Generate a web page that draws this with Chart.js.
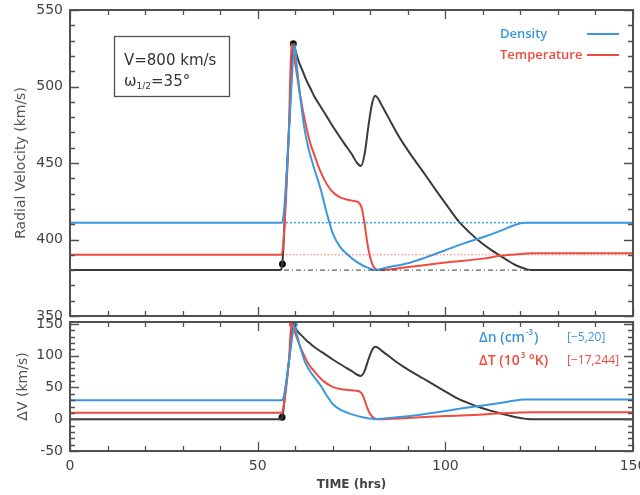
<!DOCTYPE html>
<html>
<head>
<meta charset="utf-8">
<script src="https://cdn.jsdelivr.net/npm/chart.js@4.4.0/dist/chart.umd.min.js"></script>
<style>
  body { margin: 0; background: #fff; }
  #wrap { position: relative; width: 640px; height: 495px; }
  #top-chart { position: absolute; left: 0; top: 0; }
  #bottom-chart { position: absolute; left: 0; top: 318px; }
</style>
</head>
<body>
<div id="wrap">
  <canvas id="top-chart" width="640" height="320"></canvas>
  <canvas id="bottom-chart" width="640" height="177"></canvas>
</div>
<script>
// TIME (hrs) for each curve
var timeBlack = [0, 56, 56.6, 57.5, 58.5, 59.5, 60, 61, 62, 63, 64, 65, 67, 70, 73, 75, 76.5, 77.5, 78.5, 79.5, 80.5, 81.3, 82, 83, 85, 87, 89, 91.5, 94, 96, 98, 100.5, 103.5, 106.5, 109.5, 112, 114.5, 116.5, 118.5, 120.5, 122, 123, 150];
var timeBlue = [0, 56.5, 57, 58, 59, 59.8, 60.5, 61.5, 62.5, 63.5, 64.5, 65.5, 67, 68, 69, 70, 72, 74, 76, 78, 80, 81, 85, 90, 95, 100, 105, 110, 115, 118, 121, 150];
var timeRed = [0, 56.3, 56.8, 57.5, 58.3, 59, 60, 61, 62, 63, 64, 65, 66, 67, 68, 69, 70, 71, 72, 74, 76, 77, 77.8, 78.5, 79.2, 80, 80.8, 81.5, 82.5, 90, 100, 110, 115, 120, 123, 150];

// radial velocity (km/s), top panel
var velBlack = [380, 380, 385, 430, 480, 528, 524, 516, 510, 504, 499, 494, 486, 474, 463, 456, 450, 448, 456, 474, 489, 494, 492.5, 488, 479, 470, 462, 453, 444.5, 437.5, 430.5, 422, 412, 404.5, 398, 393.5, 389.5, 386.5, 383.5, 381.5, 380.3, 380, 380];
var velBlue = [411, 411, 418, 455, 500, 528, 512, 490, 472, 460, 451, 443, 431, 421, 412, 404, 395, 390, 386, 383, 381, 380, 382, 384.5, 388.5, 393, 397.5, 401.5, 406, 409, 411, 411];
var velRed = [390, 390, 396, 425, 470, 528, 515, 499, 485, 473, 463, 456, 449, 443, 438, 434, 431, 429, 427.5, 426, 425, 424, 420, 410, 398, 388, 382.5, 380.5, 380, 382, 385, 387.5, 389.5, 390.5, 391, 391];

// delta V (km/s), bottom panel
var dvBlack = [0, 0, 5, 50, 100, 150, 144, 136, 130, 124, 119, 114, 106, 94, 83, 76, 70, 68, 76, 94, 109, 114, 112.5, 108, 99, 90, 82, 73, 64.5, 57.5, 50.5, 42, 32, 24.5, 18, 13.5, 9.5, 6.5, 3.5, 1.5, 0.3, 0, 0];
var dvBlue = [30, 30, 37, 75, 120, 150, 132, 110, 92, 80, 71, 63, 51, 41, 32, 24, 15, 10, 6, 3, 1, 0, 2, 4.5, 8.5, 13, 17.5, 21.5, 26, 29, 31, 31];
var dvRed = [10, 10, 16, 45, 90, 150, 135, 119, 105, 93, 83, 76, 69, 63, 58, 54, 51, 49, 47.5, 46, 45, 44, 40, 30, 18, 8, 2.5, 0.5, 0, 2, 5, 7.5, 9.5, 10.5, 11, 11];

// dotted reference levels in the top panel: density, temperature, velocity
var refStart = [57.5, 57.5, 57];
var refEnd = [150, 150, 122];
var refLevel = [411, 390, 380];

// marked points
var topMarkTime = [56.6, 59.5];
var topMarkVel = [384, 528];
var bottomMarkTime = [56.5, 59, 60];
var bottomMarkDv = [3, 150, 150];

var BLUE = "#3b98dc";
var RED = "#ef4b3f";
var BLACK = "#3a3a3a";
var AXIS = "#505050";
var FONT = "'DejaVu Sans', sans-serif";
var NOTE_FONT = "'Open Sans', sans-serif";

function pts(t, v) {
  return t.map(function (x, i) { return { x: x, y: v[i] }; });
}

function curve(t, v, color) {
  return {
    data: pts(t, v),
    borderColor: color,
    borderWidth: 2,
    pointRadius: 0,
    cubicInterpolationMode: "monotone",
  };
}

function refLine(i, color, dash, width) {
  return {
    data: [{ x: refStart[i], y: refLevel[i] }, { x: refEnd[i], y: refLevel[i] }],
    borderColor: color,
    borderWidth: width,
    borderDash: dash,
    pointRadius: 0,
  };
}

// keep the plot box fixed: no extra room for half labels
function fixY(s) {
  s.width = 70;
  s.paddingTop = 0;
  s.paddingBottom = 0;
}
function fixX(s) {
  s.height = 44;
  s.paddingLeft = 0;
  s.paddingRight = 0;
}

// frame with IDL-style inward ticks
var frameTicks = {
  id: "frameTicks",
  afterDatasetsDraw: function (chart) {
    var ctx = chart.ctx, a = chart.chartArea;
    var x = chart.scales.x, y = chart.scales.y;
    ctx.save();
    ctx.strokeStyle = AXIS;
    ctx.lineWidth = 1.3;
    ctx.beginPath();
    for (var t = 0; t <= 150; t += 10) {
      var px = Math.round(x.getPixelForValue(t)) + 0.5;
      var len = t % 50 === 0 ? 9 : 5;
      ctx.moveTo(px, a.bottom); ctx.lineTo(px, a.bottom - len);
      ctx.moveTo(px, a.top); ctx.lineTo(px, a.top + len);
    }
    for (var v = Math.ceil(y.min / 10) * 10; v <= y.max; v += 10) {
      var py = Math.round(y.getPixelForValue(v)) + 0.5;
      var l2 = v % 50 === 0 ? 9 : 5;
      ctx.moveTo(a.left, py); ctx.lineTo(a.left + l2, py);
      ctx.moveTo(a.right, py); ctx.lineTo(a.right - l2, py);
    }
    ctx.stroke();
    ctx.lineWidth = 2;
    ctx.strokeRect(a.left, a.top, a.right - a.left, a.bottom - a.top);
    ctx.restore();
  },
};

// text box and legend of the top panel
var topNotes = {
  id: "topNotes",
  afterDraw: function (chart) {
    var ctx = chart.ctx;
    ctx.save();
    ctx.strokeStyle = AXIS;
    ctx.lineWidth = 1.3;
    ctx.strokeRect(114.5, 36.5, 115, 60);
    ctx.fillStyle = "#333";
    ctx.textBaseline = "middle";
    ctx.font = "15px " + FONT;
    ctx.fillText("V=800 km/s", 124, 61);
    ctx.fillText("\u03c9", 124, 82);
    var w = ctx.measureText("\u03c9").width;
    ctx.font = "9px " + FONT;
    ctx.fillText("1/2", 124 + w, 87);
    var w2 = ctx.measureText("1/2").width;
    ctx.font = "15px " + FONT;
    ctx.fillText("=35\u00b0", 124 + w + w2, 82);

    ctx.font = "600 13px " + NOTE_FONT;
    ctx.fillStyle = BLUE;
    ctx.fillText("Density", 500, 34);
    ctx.fillStyle = RED;
    ctx.fillText("Temperature", 500, 55);
    ctx.lineWidth = 2;
    ctx.strokeStyle = BLUE;
    ctx.beginPath(); ctx.moveTo(587, 34); ctx.lineTo(619, 34); ctx.stroke();
    ctx.strokeStyle = RED;
    ctx.beginPath(); ctx.moveTo(587, 55); ctx.lineTo(619, 55); ctx.stroke();
    ctx.restore();
  },
};

var bottomNotes = {
  id: "bottomNotes",
  afterDraw: function (chart) {
    var ctx = chart.ctx;
    ctx.save();
    ctx.textBaseline = "middle";
    function piece(txt, x, y, font) {
      ctx.font = font;
      ctx.fillText(txt, x, y);
      return x + ctx.measureText(txt).width;
    }
    var big = "600 14px " + NOTE_FONT, sup = "600 8px " + NOTE_FONT, small = "12px " + NOTE_FONT;
    ctx.fillStyle = BLUE;
    var x = piece("\u0394n (cm", 479, 20, big);
    x = piece("-3", x + 1, 15, sup);
    piece(")", x + 1, 20, big);
    piece("[\u22125,20]", 567, 20, small);
    ctx.fillStyle = RED;
    x = piece("\u0394T (10", 479, 43, big);
    x = piece("3", x + 1, 38, sup);
    piece(" \u00b0K)", x, 43, big);
    piece("[\u221217,244]", 567, 43, small);
    ctx.restore();
  },
};

var topCtx = document.getElementById("top-chart").getContext("2d");
var topChart = new Chart(topCtx, {
  type: "line",
  data: {
    datasets: [
      refLine(0, BLUE, [2, 2], 1.5),
      refLine(1, "rgba(239,75,63,0.8)", [1.5, 2], 1),
      refLine(2, BLACK, [5, 3, 1, 3], 1),
      curve(timeBlue, velBlue, BLUE),
      curve(timeRed, velRed, RED),
      curve(timeBlack, velBlack, BLACK),
      {
        data: pts(topMarkTime, topMarkVel),
        showLine: false,
        pointRadius: 3.5,
        pointBackgroundColor: "#111",
        pointBorderWidth: 0,
      },
    ],
  },
  options: {
    responsive: false,
    animation: false,
    devicePixelRatio: 1,
    layout: { padding: { left: 0, right: 7, top: 10, bottom: 4 } },
    plugins: { legend: { display: false }, tooltip: { enabled: false } },
    scales: {
      x: { type: "linear", min: 0, max: 150, display: false },
      y: {
        min: 350,
        max: 550,
        grid: { display: false, drawTicks: false },
        border: { display: false },
        ticks: { stepSize: 50, padding: 7, color: "#444", font: { family: FONT, size: 14 } },
        afterFit: fixY,
        title: {
          display: true,
          text: "Radial Velocity (km/s)",
          color: "#555",
          font: { family: FONT, size: 14 },
          padding: { top: 13, bottom: 0 },
        },
      },
    },
  },
  plugins: [frameTicks, topNotes],
});

var bottomCtx = document.getElementById("bottom-chart").getContext("2d");
var bottomChart = new Chart(bottomCtx, {
  type: "line",
  data: {
    datasets: [
      curve(timeBlue, dvBlue, BLUE),
      curve(timeRed, dvRed, RED),
      curve(timeBlack, dvBlack, BLACK),
      {
        data: pts(bottomMarkTime, bottomMarkDv),
        showLine: false,
        pointRadius: 3.5,
        pointStyle: ["circle", "rect", "rect"],
        pointBackgroundColor: ["#111", RED, BLUE],
        pointBorderWidth: 0,
      },
    ],
  },
  options: {
    responsive: false,
    animation: false,
    devicePixelRatio: 1,
    layout: { padding: { left: 0, right: 7, top: 3, bottom: 0 } },
    plugins: { legend: { display: false }, tooltip: { enabled: false } },
    scales: {
      x: {
        type: "linear",
        min: 0,
        max: 150,
        grid: { display: false, drawTicks: false },
        border: { display: false },
        ticks: { stepSize: 50, padding: 7, color: "#444", font: { family: FONT, size: 14 } },
        afterFit: fixX,
        title: {
          display: true,
          text: "TIME (hrs)",
          color: "#444",
          font: { family: FONT, size: 12, weight: "bold" },
          padding: { top: 0, bottom: 3 },
        },
      },
      y: {
        min: -50,
        max: 153,
        grid: { display: false, drawTicks: false },
        border: { display: false },
        ticks: { stepSize: 50, includeBounds: false, padding: 7, color: "#444", font: { family: FONT, size: 14 } },
        afterFit: fixY,
        title: {
          display: true,
          text: "\u0394V (km/s)",
          color: "#555",
          font: { family: FONT, size: 14 },
          padding: { top: 15, bottom: 0 },
        },
      },
    },
  },
  plugins: [frameTicks, bottomNotes],
});
</script>
</body>
</html>
